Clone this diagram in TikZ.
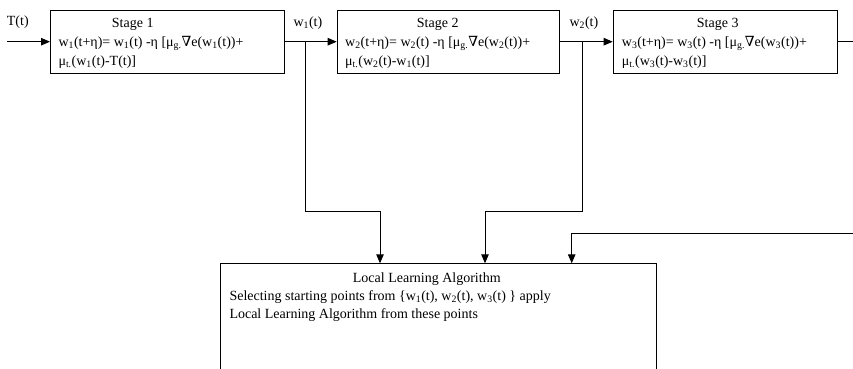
\documentclass[tikz,border=0pt]{standalone}
\usepackage{fontspec}
\setmainfont{Liberation Serif}
\newfontfamily\nablafont{DejaVu Serif}
\usetikzlibrary{arrows.meta}
\newcommand{\nbl}{{\nablafont ∇}}
\newcommand{\sbs}[1]{\textsubscript{#1}}
\tikzset{
  stagebox/.style={draw, line width=0.9pt, rectangle, inner sep=0pt, anchor=north west},
  txt/.style={anchor=base west, inner sep=0pt, font=\fontsize{14}{18.5}\selectfont},
  conn/.style={line width=0.9pt},
  arr/.style={conn, -{Triangle[length=9pt,width=7.5pt]}}
}
\begin{document}
\begin{tikzpicture}[x=1pt,y=-1pt]
\useasboundingbox (0,0) rectangle (853,368);
% boxes
\node[stagebox, minimum width=233.7pt, minimum height=63.3pt] (s1) at (50,9.6) {};
\node[stagebox, minimum width=222.6pt, minimum height=63.3pt] (s2) at (336.7,9.6) {};
\node[stagebox, minimum width=224pt, minimum height=63.3pt] (s3) at (612.7,9.6) {};
\node[stagebox, minimum width=436pt, minimum height=130pt] (L) at (220,263.3) {};
% stage texts
\node[txt] (s1t) at (111.7,27.3) {Stage 1};
\node[txt] (s1a) at (58.3,46) {w\sbs{1}(t+η)= w\sbs{1}(t) -η [μ\sbs{g.}\nbl e(w\sbs{1}(t))+};
\node[txt] (s1b) at (58.3,65.5) {μ\sbs{t.}(w\sbs{1}(t)-T(t)]};
\node[txt] (s2t) at (416.7,27.3) {Stage 2};
\node[txt] (s2a) at (345,46) {w\sbs{2}(t+η)= w\sbs{2}(t) -η [μ\sbs{g.}\nbl e(w\sbs{2}(t))+};
\node[txt] (s2b) at (345,65.5) {μ\sbs{t.}(w\sbs{2}(t)-w\sbs{1}(t)]};
\node[txt] (s3t) at (696.7,27.3) {Stage 3};
\node[txt] (s3a) at (621.7,46) {w\sbs{3}(t+η)= w\sbs{3}(t) -η [μ\sbs{g.}\nbl e(w\sbs{3}(t))+};
\node[txt] (s3b) at (621.7,65.5) {μ\sbs{t.}(w\sbs{3}(t)-w\sbs{3}(t)]};
% local box texts
\node[txt] (Lt) at (352.7,282.5) {Local Learning Algorithm};
\node[txt] (La) at (229.3,300.5) {Selecting starting points from \{w\sbs{1}(t), w\sbs{2}(t), w\sbs{3}(t) \} apply};
\node[txt] (Lb) at (229.3,318.5) {Local Learning Algorithm from these points};
% signal labels
\node[txt] (lT) at (6.7,25.7) {T(t)};
\node[txt] (lw1) at (293.3,26) {w\sbs{1}(t)};
\node[txt] (lw2) at (569.3,26) {w\sbs{2}(t)};
% coordinates
\coordinate (in) at (7,41.7);
\coordinate (b1) at (305,41.7);
\coordinate (c1) at (380,211);
\coordinate (b2) at (582.7,41.7);
\coordinate (c2) at (485,211);
\coordinate (out) at (853,41.7);
\coordinate (fb) at (853,233.3);
\coordinate (c3) at (571.7,233.3);
% connectors
\draw[arr] (in) -- (in -| s1.west);
\draw[arr] (s1.east |- in) -- (s2.west |- in);
\draw[arr] (s2.east |- in) -- (s3.west |- in);
\draw[conn] (s3.east |- in) -- (out);
\draw[arr] (b1) |- (c1) -- (c1 |- L.north);
\draw[arr] (b2) |- (c2) -- (c2 |- L.north);
\draw[arr] (fb) -- (c3) -- (c3 |- L.north);
\end{tikzpicture}
\end{document}
